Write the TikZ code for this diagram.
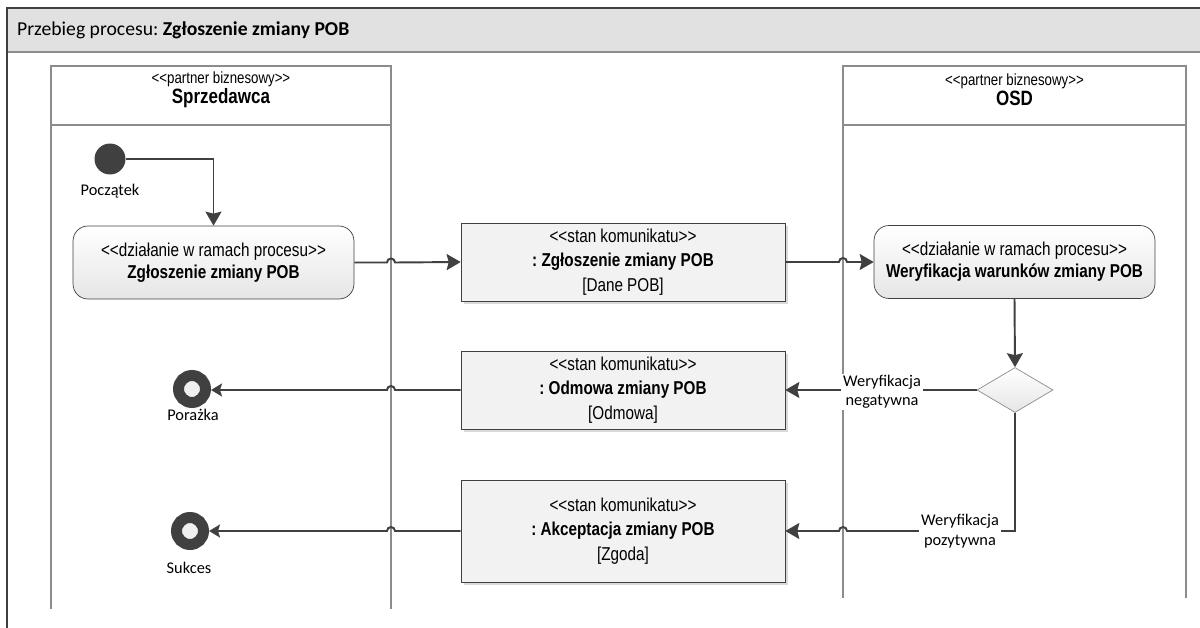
\documentclass[tikz,border=0pt]{standalone}
\usepackage{fontspec}
\setmainfont{Carlito}
\newfontfamily\narrowsf[FakeStretch=0.82]{Liberation Sans}
\usetikzlibrary{arrows.meta,calc,shapes.geometric,shadows}
\definecolor{linec}{HTML}{404040}
\definecolor{lanec}{HTML}{8C8C8C}
\definecolor{barc}{HTML}{E1E1E1}
\definecolor{msgc}{HTML}{F2F2F2}
\tikzset{act/.style={draw=linec,rounded corners=0.3cm,top color=white,bottom color=black!10,minimum width=5.62cm,minimum height=1.46cm,align=center,font=\narrowsf\fontsize{10.6}{12.5}\selectfont},msg/.style={draw=linec,fill=msgc,general shadow={fill=black!15,shadow xshift=0.06cm,shadow yshift=-0.06cm},minimum width=6.48cm,minimum height=1.48cm,align=center,font=\narrowsf\fontsize{10.6}{13.9}\selectfont},flow/.style={draw=linec,line width=1.1pt,-{Stealth[length=0.28cm,width=0.32cm,inset=0.04cm]}},endflow/.style={flow,-{Stealth[length=0.22cm,width=0.26cm,inset=0.04cm]}},lane/.style={draw=lanec,line width=0.8pt},lanetitle/.style={align=center,font=\narrowsf\fontsize{9.2}{11.4}\selectfont},lab/.style={fill=white,align=center,inner sep=1pt,font=\fontsize{9.3}{11}\selectfont},endnode/.style={circle,draw=linec,line width=0.22cm,fill=black!6,minimum size=0.54cm,inner sep=0pt}}

\begin{document}
\frenchspacing
\begin{tikzpicture}[x=0.02cm,y=-0.02cm]
\useasboundingbox (0,0) rectangle (1200,628);
\fill[barc] (7,8) rectangle (1200,52);
\draw[lanec,line width=0.8pt] (7,52) -- (1200,52);
\draw[linec,line width=0.8pt] (7,628) -- (7,8) -- (1200,8);
\node[anchor=west,font=\fontsize{11.2}{13}\selectfont] (title) at (11,30) {Przebieg procesu: \textbf{Zgłoszenie zmiany POB}};
\foreach \nm/\xa/\xb/\yb/\ttl in {spr/51/391/609/Sprzedawca,osd/843/1186/598/OSD}{
\draw[lane] (\xa,\yb) |- (\xb,66) -- (\xb,\yb);
\draw[lane] (\xa,125) -- (\xb,125);
\node[lanetitle] (\nm) at ({(\xa+\xb)/2},90) {<{}<partner biznesowy>{}>\\\fontsize{11.8}{12}\selectfont\textbf{\ttl}};
}
\coordinate (sprR) at (391,66);
\coordinate (osdL) at (843,66);
\node[circle,fill=linec,minimum size=0.62cm,inner sep=0pt] (start) at (110,159) {};
\node[font=\fontsize{9.3}{11}\selectfont] (startlab) at (110,191) {Początek};
\node[act] (act1) at (213.5,262.5) {<{}<działanie w ramach procesu>{}>\\\textbf{Zgłoszenie zmiany POB}};
\node[msg] (msg1) at (623,262) {<{}<stan komunikatu>{}>\\\textbf{: Zgłoszenie zmiany POB}\\{}[Dane POB]};
\node[act] (act2) at (1014.5,262) {<{}<działanie w ramach procesu>{}>\\\textbf{Weryfikacja warunków zmiany POB}};
\node[diamond,draw=lanec,top color=white,bottom color=black!10,minimum width=1.52cm,minimum height=0.9cm,inner sep=0pt] (dec) at (1015,390) {};
\node[msg] (msg2) at (623,390) {<{}<stan komunikatu>{}>\\\textbf{: Odmowa zmiany POB}\\{}[Odmowa]};
\node[msg,minimum height=2.04cm] (msg3) at (623,531) {<{}<stan komunikatu>{}>\\\textbf{: Akceptacja zmiany POB}\\{}[Zgoda]};
\node[endnode] (fail) at (192,389) {};
\node[font=\fontsize{9.3}{11}\selectfont] (faillab) at (193,415) {Porażka};
\node[endnode] (ok) at (190,531) {};
\node[font=\fontsize{9.3}{11}\selectfont] (oklab) at (189,568) {Sukces};
\draw[flow] (start.east) -| (act1.north);
\draw[flow] (act1.east) -- ($(act1.east -| sprR)+(-4,0)$) arc[start angle=180,end angle=0,radius=0.08cm] -- (msg1.west);
\draw[flow] (msg1.east) -- ($(msg1.east -| osdL)+(-4,0)$) arc[start angle=180,end angle=0,radius=0.08cm] -- (act2.west);
\draw[flow] (act2.south) -- (dec.north);
\draw[flow] (dec.west) -- (msg2.east);
\draw[flow] (dec.south) |- ($(msg3.east -| osdL)+(4,0)$) arc[start angle=0,end angle=180,radius=0.08cm] -- (msg3.east);
\draw[endflow] (msg2.west) -- ($(msg2.west -| sprR)+(4,0)$) arc[start angle=0,end angle=180,radius=0.08cm] -- (fail.east |- msg2.west);
\draw[endflow] (msg3.west) -- ($(msg3.west -| sprR)+(4,0)$) arc[start angle=0,end angle=180,radius=0.08cm] -- (ok.east);
\node[lab] (neg) at (882,392) {Weryfikacja\\negatywna};
\node[lab] (pos) at (960,531) {Weryfikacja\\pozytywna};
\end{tikzpicture}
\end{document}
